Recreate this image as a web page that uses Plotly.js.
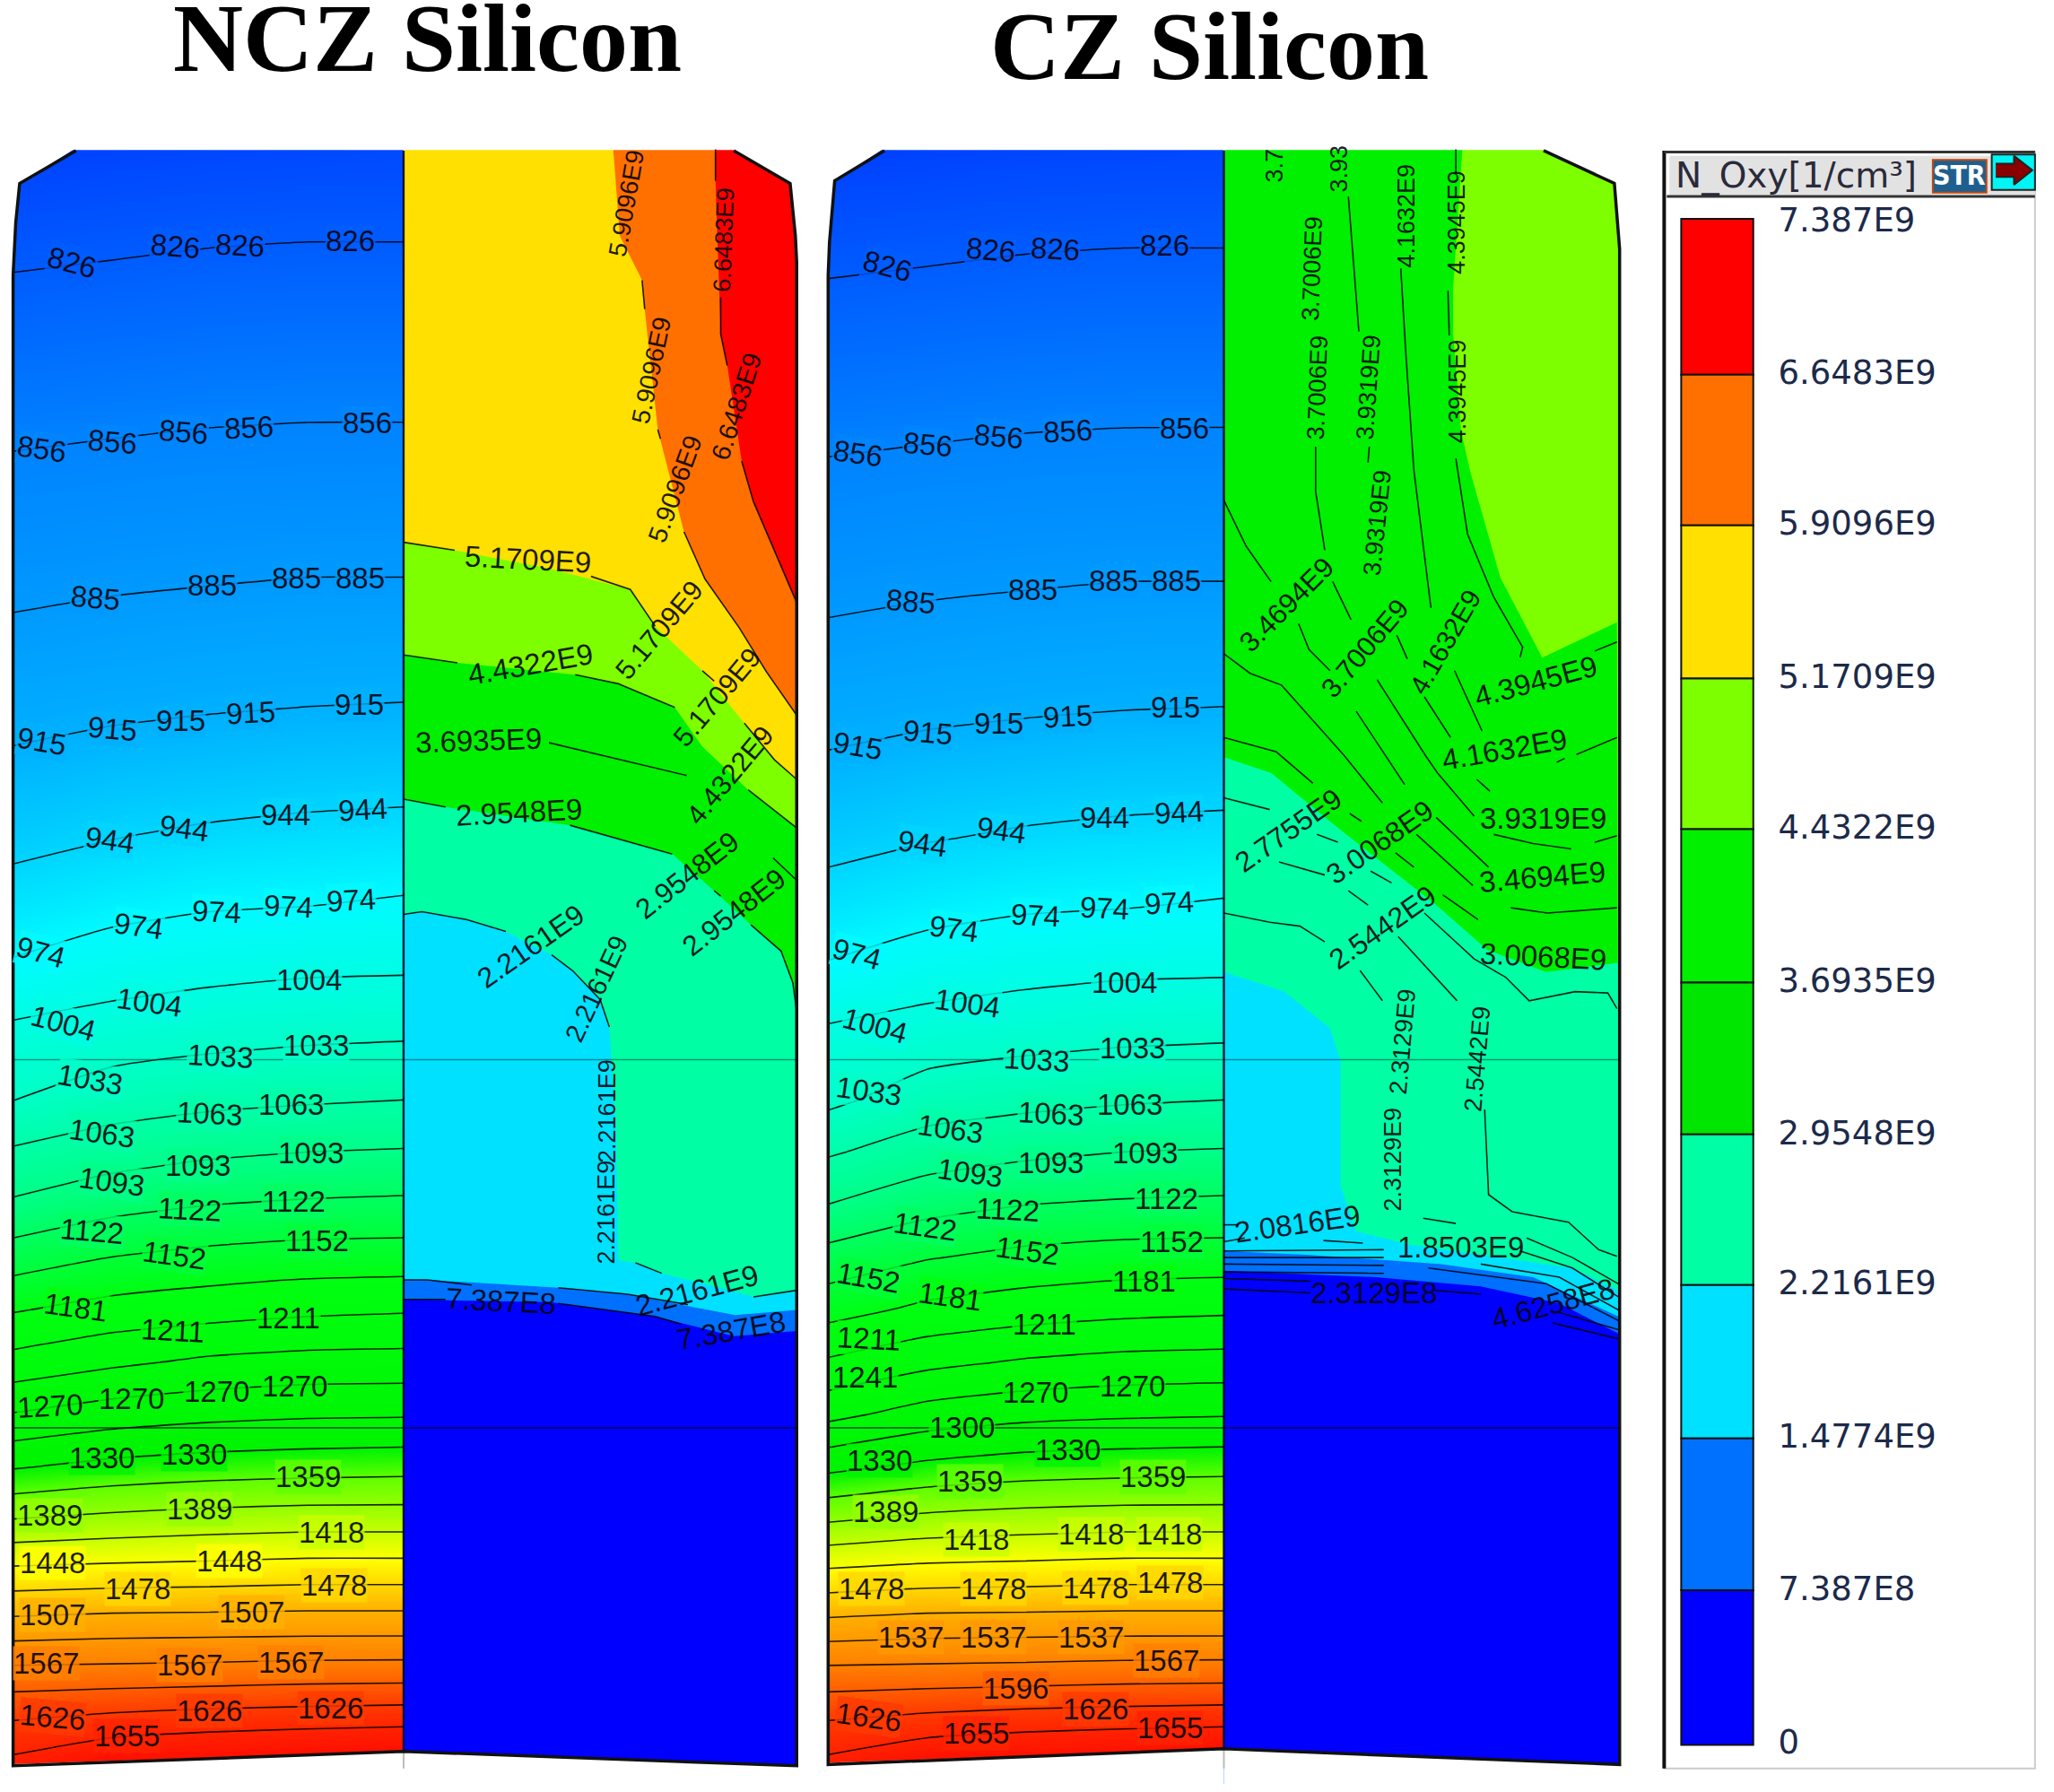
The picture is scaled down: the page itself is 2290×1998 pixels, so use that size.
<!DOCTYPE html>
<html><head><meta charset="utf-8">
<script src="https://cdn.plot.ly/plotly-3.0.0.min.js"></script>
<style>html,body{margin:0;padding:0;background:#fff}</style></head>
<body><div id="chart" style="width:2290px;height:1998px"></div>
<script>
// ---------- Temperature field ----------
const tempRows = [110,180,250,320,390,440,490,540,590,640,690,740,790,840,880,920,960,1000,1040,1080,1120,1160,1200,1240,1280,1320,1350];
const nczCols = [10,85,160,235,308];
const czCols = [632,708,783,858,934];
const nczTemp = [
[805,807,809,810,811],[820,822,824,825,825],[835,837,839,840,840],[850,852,854,855,855],
[866,869,871,872,873],[878,881,883,885,885],[891,895,898,900,901],[906,910,913,915,916],
[921,927,930,933,934],[937,944,949,952,954],[956,965,971,973,977],[978,990,996,1000,1001],
[1011,1018,1024,1028,1030],[1033,1049,1056,1060,1063],[1067,1079,1088,1093,1095],[1097,1113,1122,1126,1128],
[1137,1152,1160,1165,1166],[1179,1192,1199,1205,1208],[1221,1235,1246,1251,1252],[1272,1285,1292,1296,1297],
[1327,1338,1344,1347,1349],[1389,1396,1401,1404,1404],[1455,1458,1460,1463,1463],[1516,1520,1521,1522,1522],
[1580,1581,1583,1586,1587],[1634,1645,1652,1655,1658],[1666,1690,1690,1695,1700]];
const czTemp = [
[804,806,808,809,810],[819,821,823,824,824],[834,836,838,839,839],[849,851,853,854,854],
[865,868,870,871,872],[877,880,882,884,884],[890,894,897,899,900],[905,909,912,914,915],
[920,926,929,932,933],[936,943,948,951,953],[955,964,970,972,976],[977,989,995,999,1000],
[1009,1017,1023,1027,1029],[1027,1048,1055,1060,1063],[1060,1078,1087,1093,1095],[1093,1112,1122,1126,1128],
[1133,1150,1160,1165,1166],[1170,1188,1197,1203,1206],[1215,1233,1244,1250,1252],[1262,1283,1292,1296,1298],
[1322,1336,1344,1347,1349],[1385,1396,1401,1404,1404],[1452,1458,1460,1463,1463],[1515,1520,1521,1522,1522],
[1580,1581,1583,1586,1587],[1634,1645,1652,1655,1658],[1666,1690,1690,1695,1700]];
const tempStops = [[805,'#0040ff'],[856,'#0084ff'],[915,'#00b0ff'],[974,'#00fbff'],[1033,'#00ffc8'],[1093,'#00ff88'],[1181,'#00ff10'],[1330,'#00f400'],[1359,'#60ff00'],[1418,'#c8ff00'],[1448,'#ffff00'],[1507,'#ffb000'],[1567,'#ff8000'],[1626,'#ff3a00'],[1700,'#ff0000']];

// [x, y, angle, text]
const nczTempLabels = [
[55,200,15,'826'],[134,188,5,'826'],[183,187,3,'826'],[267,184,0,'826'],
[32,343,8,'856'],[86,337,5,'856'],[140,330,5,'856'],[190,326,-3,'856'],[280,323,0,'856'],
[73,456,5,'885'],[162,447,0,'885'],[226,441,0,'885'],[275,441,0,'885'],
[32,566,10,'915'],[86,556,5,'915'],[138,550,0,'915'],[191,544,-3,'915'],[274,538,0,'915'],
[84,641,8,'944'],[141,632,8,'944'],[218,622,0,'944'],[277,618,-3,'944'],
[31,727,15,'974'],[106,707,8,'974'],[165,696,3,'974'],[220,692,3,'974'],[268,687,-3,'974'],
[48,781,15,'1004'],[114,765,8,'1004'],[236,748,0,'1004'],
[69,824,10,'1033'],[168,806,3,'1033'],[241,798,0,'1033'],
[78,865,8,'1063'],[160,850,3,'1063'],[222,843,0,'1063'],
[85,902,8,'1093'],[151,890,0,'1093'],[237,880,0,'1093'],
[70,940,5,'1122'],[145,923,3,'1122'],[224,917,0,'1122'],
[133,958,8,'1152'],[242,947,0,'1152'],[58,998,8,'1181'],
[132,1016,3,'1211'],[220,1006,0,'1211'],
[38,1073,-3,'1270'],[100,1068,0,'1270'],[165,1062,0,'1270'],[225,1058,0,'1270'],
[78,1113,0,'1330'],[148,1110,0,'1330'],[235,1127,0,'1359'],
[38,1157,0,'1389'],[152,1152,0,'1389'],[253,1170,0,'1418'],
[40,1193,0,'1448'],[175,1192,0,'1448'],[105,1213,0,'1478'],[255,1210,0,'1478'],
[40,1233,0,'1507'],[192,1231,0,'1507'],
[35,1270,0,'1567'],[145,1271,0,'1567'],[222,1269,0,'1567'],
[40,1311,5,'1626'],[160,1306,0,'1626'],[252,1304,0,'1626'],[97,1325,0,'1655']];
const czTempLabels = [
[677,203,15,'826'],[756,191,5,'826'],[805,190,3,'826'],[889,187,0,'826'],
[655,346,8,'856'],[708,339,5,'856'],[762,333,5,'856'],[815,329,-3,'856'],[904,327,0,'856'],
[695,459,5,'885'],[788,450,0,'885'],[850,443,0,'885'],[898,443,0,'885'],
[655,569,10,'915'],[708,559,5,'915'],[762,552,0,'915'],[815,547,-3,'915'],[897,540,0,'915'],
[704,644,8,'944'],[764,634,8,'944'],[843,624,0,'944'],[900,620,-3,'944'],
[654,728,15,'974'],[728,709,8,'974'],[790,699,3,'974'],[843,693,3,'974'],[892,689,-3,'974'],
[668,783,15,'1004'],[738,766,8,'1004'],[858,750,0,'1004'],
[663,833,8,'1033'],[791,809,3,'1033'],[864,800,0,'1033'],
[725,862,8,'1063'],[802,850,3,'1063'],[862,843,0,'1063'],
[740,895,8,'1093'],[802,888,0,'1093'],[874,880,0,'1093'],
[706,936,8,'1122'],[769,923,3,'1122'],[890,915,0,'1122'],
[663,975,10,'1152'],[784,955,8,'1152'],[894,948,0,'1152'],
[725,990,8,'1181'],[873,978,0,'1181'],[663,1022,3,'1211'],[797,1011,0,'1211'],
[660,1051,0,'1241'],[790,1063,0,'1270'],[864,1058,0,'1270'],[734,1090,0,'1300'],
[671,1115,0,'1330'],[815,1107,0,'1330'],[740,1131,0,'1359'],[880,1127,0,'1359'],
[676,1154,0,'1389'],[745,1175,0,'1418'],[833,1171,0,'1418'],[892,1171,0,'1418'],
[665,1213,0,'1478'],[758,1213,0,'1478'],[836,1212,0,'1478'],[893,1208,0,'1478'],
[695,1250,0,'1537'],[758,1250,0,'1537'],[833,1250,0,'1537'],[890,1268,0,'1567'],
[775,1289,0,'1596'],[663,1311,8,'1626'],[836,1305,0,'1626'],[745,1323,0,'1655'],[893,1319,0,'1655']];

// ---------- N_Oxy regions ----------
const bandColors = ['#0000ff','#0070ff','#00e1ff','#00ffa5','#00f000','#00f000','#7dff00','#ffe000','#ff7000','#ff0000'];

const nczOrange = [[546,546,550,555,566,575,608],[114,138,255,279,352,383,460]];
const nczYellow = [[468,473,490,492,502,522,538,564,585,608],[114,180,214,236,328,406,442,479,513,546]];
const nczLime = [[308,347,419,481,500,536,568,591,608],[414,420,434,450,478,512,552,580,595]];
const nczGreen = [[308,349,439,472,515,536,571,608],[500,506,515,522,540,570,603,632]];
const nczSpring = [[308,340,435,513,545,573,596,605,608],[610,616,630,652,680,706,726,750,772]];
const nczCyan = [[308,322,356,386,421,437,458,465,470,472,485,505,561,575,608],[698,696,702,711,729,741,763,784,860,962,964,972,986,990,985]];
const nczBlue = [[308,326,426,479,561,608],[977,977,983,988,1004,1000]];
const nczDark = [[308,420,500,560,608],[992,994,1005,1020,1016]];

const czGreen = [[1116,1109,1109,1115,1122,1145,1177,1234],[114,220,255,329,360,441,502,475]];
const czSpring = [[934,970,1021,1095,1135,1180,1235],[578,590,632,690,725,742,735]];
const czCyan = [[934,980,1015,1023,1023,1035,1075,1130,1200,1235],[742,757,785,810,905,940,950,958,968,985]];
const czBlue = [[934,1000,1100,1170,1235],[955,958,965,975,1005]];
const czDark = [[934,1050,1130,1190,1235],[970,975,982,995,1018]];

// contour polylines, broken at their labels: [x,y, x,y, ...]
const nczSegments = [
[546,114,546,138],[550,227,550,255,555,279],[566,352,575,383,608,460],
[490,214,492,236],[502,328,504,335],[522,406,538,442,564,479,585,513,608,546],
[308,414,347,420],[451,440,481,450,500,478],[536,512,545,520],[568,552,591,580,608,595],
[308,500,349,506],[439,515,472,522,515,540],[571,603,608,632],
[419,567,474,580,524,592],[590,655,608,672],
[308,610,340,616],[435,630,513,652],[545,680,550,684],[573,706,596,726,605,750,608,772],
[308,698,322,696,356,702,386,711],[421,729,437,741,458,763,465,784],
[485,964,505,972],[575,990,608,985],
[308,977,326,977,360,981],[426,983,479,988,525,996],
[308,992,340,992],[426,995,500,1005,520,1011]];
const czSegments = [
[934,382,951,417,970,444],[1004,341,1004,375,1011,420],[1017,444,1031,473],[991,476,999,496,1015,512],
[934,499,954,514,978,523,1026,577,1055,613],[934,563,974,574,1002,598],[1029,150,1037,253],[1044,353,1045,341],
[1066,485,1074,503],[1051,519,1088,577,1097,590,1125,623],[1035,543,1072,599],[1069,205,1073,272,1079,359,1092,464],
[1087,532,1107,563],[1110,512,1131,558],[1111,114,1111,132],[1105,222,1106,256],
[1111,350,1120,408,1140,456,1162,494,1160,502],[1217,497,1234,490],[1203,576,1234,563],
[1127,595,1137,604],[1188,582,1194,579],[1140,637,1170,644,1199,648],[1217,643,1234,638],
[1153,693,1181,697,1234,693],[1096,624,1136,662],[1081,637,1124,676],
[1030,621,1039,627],[1065,651,1079,662],[1101,683,1128,702],[934,609,969,618],[1005,637,1021,643],
[1046,665,1062,674],[976,658,1011,668],[1029,680,1044,691],
[1087,697,1125,732,1149,746,1167,764,1202,757,1227,758,1234,770],[1067,715,1112,764],
[934,697,969,704,992,707,1011,719],[1038,741,1055,764],
[1133,847,1136,912,1154,925,1197,933,1220,954,1234,959],[1086,930,1111,934],
[934,935,945,935],[934,948,950,945],[1010,947,1040,949],
[934,955,1056,954],[934,960,1056,960],[934,965,1056,966],[934,971,1056,972],
[1165,945,1200,960,1235,980],[1160,955,1200,968,1235,990],[1130,965,1190,975,1235,1000],
[1090,968,1180,980,1235,1008],[934,976,1000,978],[934,984,1000,987],[1095,985,1130,988],
[1185,1010,1235,1022],[1190,1002,1235,1015]];

const nczLabels = [
[478,155,-80,'5.9096E9'],[497,283,-78,'5.9096E9'],[515,373,-70,'5.9096E9'],
[552,183,-88,'6.6483E9'],[562,310,-72,'6.6483E9'],
[403,427,3,'5.1709E9'],[503,481,-50,'5.1709E9'],[547,532,-50,'5.1709E9'],
[405,507,-10,'4.4322E9'],[557,592,-50,'4.4322E9'],[365,565,-2,'3.6935E9'],
[396,620,-3,'2.9548E9'],[524,668,-38,'2.9548E9'],[560,696,-38,'2.9548E9'],
[405,722,-35,'2.2161E9'],[455,755,-65,'2.2161E9'],[463,848,-90,'2.2161E9'],[463,925,-90,'2.2161E9'],[532,985,-15,'2.2161E9'],
[382,993,3,'7.387E8'],[558,1016,-10,'7.387E8']];
const czLabels = [
[973,126,-90,'3.7'],[1022,129,-90,'3.93'],[1001,205,-88,'3.7006E9'],[1005,296,-88,'3.7006E9'],
[1044,296,-86,'3.9319E9'],[1051,399,-84,'3.9319E9'],[1073,165,-90,'4.1632E9'],
[1112,170,-90,'4.3945E9'],[1112,299,-90,'4.3945E9'],[982,462,-45,'3.4694E9'],
[1042,495,-50,'3.7006E9'],[1103,490,-60,'4.1632E9'],[1172,520,-15,'4.3945E9'],
[1148,572,-10,'4.1632E9'],[1178,625,0,'3.9319E9'],[1177,669,-5,'3.4694E9'],[1178,730,3,'3.0068E9'],
[983,634,-35,'2.7755E9'],[1053,643,-35,'3.0068E9'],[1055,708,-35,'2.5442E9'],
[1070,795,-85,'2.3129E9'],[1063,885,-90,'2.3129E9'],[1127,808,-85,'2.5442E9'],
[990,934,-8,'2.0816E9'],[1115,952,0,'1.8503E9'],[1048,987,0,'2.3129E8'],[1185,995,-15,'4.6258E8']];

// ---------- Outlines of the two bodies ----------
const nczOutline = [[58,15,12,10,10,308,608,608,607,603,560],[115,140,170,210,1348,1337,1348,200,180,140,115]];
const czOutline = [[675,637,633,632,632,934,1236,1236,1232,1178],[115,138,185,210,1347,1335,1347,190,140,115]];
const legendLabels = ['7.387E9','6.6483E9','5.9096E9','5.1709E9','4.4322E9','3.6935E9','2.9548E9','2.2161E9','1.4774E9','7.387E8','0'];
const legendLabelY = [170,287,402,519,634,751,867,982,1099,1215,1332];
const legendEdges = [167,286,401,518,633,750,866,981,1098,1214,1332];
const legendColors = ['#ff0000','#ff7000','#ffe000','#7dff00','#00f000','#00e600','#00ffa5','#00e1ff','#0070ff','#0000ff'];
const arrowX = [1523,1537,1537,1551,1537,1537,1523];
const arrowY = [125,125,119,130,141,135,135];

// ---------- Building ----------
function hex(c){return [1,3,5].map(i=>parseInt(c.substr(i,2),16));}
function tempColor(T){
  for(let i=1;i<tempStops.length;i++){
    if(T<=tempStops[i][0]){
      const a=tempStops[i-1],b=tempStops[i],f=(T-a[0])/(b[0]-a[0]),p=hex(a[1]),q=hex(b[1]);
      return 'rgba('+p.map((v,k)=>Math.round(v+(q[k]-v)*f)).join(',')+',0.8)';
    }
  }
  return tempStops[tempStops.length-1][1];
}
const zmin=tempStops[0][0], zmax=tempStops[tempStops.length-1][0];
const scale=tempStops.map(s=>[(s[0]-zmin)/(zmax-zmin),s[1]]);
const X={xaxis:'x',yaxis:'y',hoverinfo:'skip',showlegend:false};
const traces=[];
function field(cols,temps){
  traces.push({...X,type:'contour',x:cols,y:tempRows,z:temps,colorscale:scale,zmin,zmax,zauto:false,showscale:false,
    contours:{coloring:'heatmap',start:826,end:1656,size:29.6},line:{color:'rgba(0,0,0,.85)',width:1.6,smoothing:0.5}});
}
field(nczCols,nczTemp); field(czCols,czTemp);
function poly(xs,ys,color){traces.push({...X,type:'scatter',mode:'lines',x:xs,y:ys,fill:'toself',fillcolor:color,line:{width:0,color:color}});}
function layered(L,R,base,curves){
  poly([L,R,R,L],[114,114,1362,1362],base);
  curves.forEach(([c,col])=>poly(c[0].concat([R,L,L]),c[1].concat([1362,1362,c[1][0]]),col));
}
layered(308,608,bandColors[9],[[nczOrange,bandColors[8]],[nczYellow,bandColors[7]],[nczLime,bandColors[6]],[nczGreen,bandColors[5]],[nczSpring,bandColors[3]],[nczCyan,bandColors[2]],[nczBlue,bandColors[1]],[nczDark,bandColors[0]]]);
layered(934,1236,bandColors[6],[[czGreen,bandColors[5]],[czSpring,bandColors[3]],[czCyan,bandColors[2]],[czBlue,bandColors[1]],[czDark,bandColors[0]]]);
function cornerMask(o,L,M,R){
  const x=o[0],y=o[1],iMid=x.indexOf(M),n=x.length;
  poly([L-8,R+8,R+8,L-8],[90,90,114.5,114.5],'#ffffff');
  poly([L-8,x[0]].concat(x.slice(1,iMid)).concat([L-8]),[113,113].concat(y.slice(1,iMid)).concat([y[iMid-1]]),'#ffffff');
  poly([L-8,L-8,M,M],[y[iMid-1]-1,1368,1368,y[iMid]],'#ffffff');
  const rx=x.slice(iMid+1),ry=y.slice(iMid+1);
  poly([M,M,R+8,R+8],[y[iMid],1368,1368,ry[0]],'#ffffff');
  poly([R+8].concat(rx).concat([x[n-1],R+8]),[ry[0]].concat(ry).concat([113,113]),'#ffffff');
}
cornerMask(nczOutline,10,308,608);
cornerMask(czOutline,632,934,1236);
function segs(list,w,col){
  const xs=[],ys=[];
  list.forEach(s=>{for(let i=0;i<s.length;i+=2){xs.push(s[i]);ys.push(s[i+1]);}xs.push(null);ys.push(null);});
  traces.push({...X,type:'scatter',mode:'lines',x:xs,y:ys,line:{color:col||'rgba(0,0,0,.85)',width:w||1.6}});
}
segs(nczSegments); segs(czSegments);
segs([[10,809,608,809],[632,809,1236,809]],1.6,'rgba(0,70,70,.55)');
segs([[10,1090,608,1090],[632,1090,1236,1090]],1.4,'rgba(0,0,30,.7)');
segs([[308,115,308,1337],[934,115,934,1335]],2.4,'rgba(0,0,40,.9)');
segs([[308,1337,308,1350],[934,1335,934,1350]],2,'#bbbbbb');
[nczOutline,czOutline].forEach(o=>{
  traces.push({...X,type:'scatter',mode:'lines',x:o[0],y:o[1],line:{color:'#111',width:3.5}});
});
traces.push({...X,type:'bar',orientation:'v',x:legendColors.map(()=>1310.5),width:legendColors.map(()=>55),
  base:legendEdges.slice(1),y:legendEdges.slice(0,-1).map((e,i)=>e-legendEdges[i+1]),
  marker:{color:legendColors,line:{color:'#111',width:2}}});
traces.push({...X,type:'scatter',mode:'text',x:legendLabelY.map(()=>1357),y:legendLabelY,text:legendLabels,textposition:'middle right',
  textfont:{family:'DejaVu Sans',size:37,color:'#1c2a4a'}});
traces.push({...X,type:'scatter',mode:'lines',x:arrowX,y:arrowY,fill:'toself',fillcolor:'#8a0000',line:{color:'#222',width:2}});

const ann=[];
function label(l,bg){
  // the source picture is stretched sideways, so upright labels read smaller than level ones
  const size=27+6*Math.abs(Math.cos(l[2]*Math.PI/180));
  ann.push({xref:'x',yref:'y',x:l[0],y:l[1],text:l[3],textangle:l[2],showarrow:false,borderpad:0,
    font:{family:'Liberation Sans',size:size,color:'rgba(0,0,10,.88)'},bgcolor:bg||'rgba(0,0,0,0)'});
}
nczTempLabels.forEach(l=>label(l,tempColor(+l[3]))); czTempLabels.forEach(l=>label(l,tempColor(+l[3])));
nczLabels.forEach(l=>label(l)); czLabels.forEach(l=>label(l));
ann.push({xref:'x',yref:'y',x:326,y:29,text:'<b>NCZ Silicon</b>',showarrow:false,font:{family:'Liberation Serif',size:108,color:'#000'}});
ann.push({xref:'x',yref:'y',x:923,y:35,text:'<b>CZ Silicon</b>',showarrow:false,font:{family:'Liberation Serif',size:108,color:'#000'}});
ann.push({xref:'x',yref:'y',x:1277,y:134,xanchor:'left',text:'N_Oxy[1/cm³]',showarrow:false,font:{family:'DejaVu Sans',size:39,color:'#2a2a3a'}});
ann.push({xref:'x',yref:'y',x:1495,y:134,text:'<b>STR</b>',showarrow:false,font:{family:'DejaVu Sans Condensed',size:30,color:'#fff'}});

const rect=(x0,y0,x1,y1,fill,lc,lw)=>({type:'rect',xref:'x',yref:'y',x0,y0,x1,y1,fillcolor:fill,line:{color:lc||fill,width:lw||0},layer:'below'});
const layout={width:2290,height:1998,margin:{l:0,r:0,t:0,b:0},paper_bgcolor:'#fff',plot_bgcolor:'#fff',barmode:'overlay',
  xaxis:{range:[0,1567.5],visible:false,fixedrange:true},yaxis:{range:[1368,0],visible:false,fixedrange:true},
  annotations:ann,
  shapes:[rect(1270,116,1553,1350,'#ffffff','#cccccc',2),rect(1274,119,1553,149,'#e2e2e2','#e2e2e2',0),
    rect(1475,122,1516,147,'#1f5f8f','#c04a10',2),rect(1520,118,1553,145,'#00f5f5','#222',2),
    {type:'line',xref:'x',yref:'y',x0:1270,x1:1270,y0:115,y1:1350,line:{color:'#111',width:4},layer:'below'},
    {type:'line',xref:'x',yref:'y',x0:1270,x1:1553,y0:116,y1:116,line:{color:'#333',width:3},layer:'below'},
    {type:'line',xref:'x',yref:'y',x0:1272,x1:1553,y0:150,y1:150,line:{color:'#333',width:3},layer:'below'}]};
Plotly.newPlot('chart',traces,layout,{displayModeBar:false,staticPlot:true});
</script></body></html>
